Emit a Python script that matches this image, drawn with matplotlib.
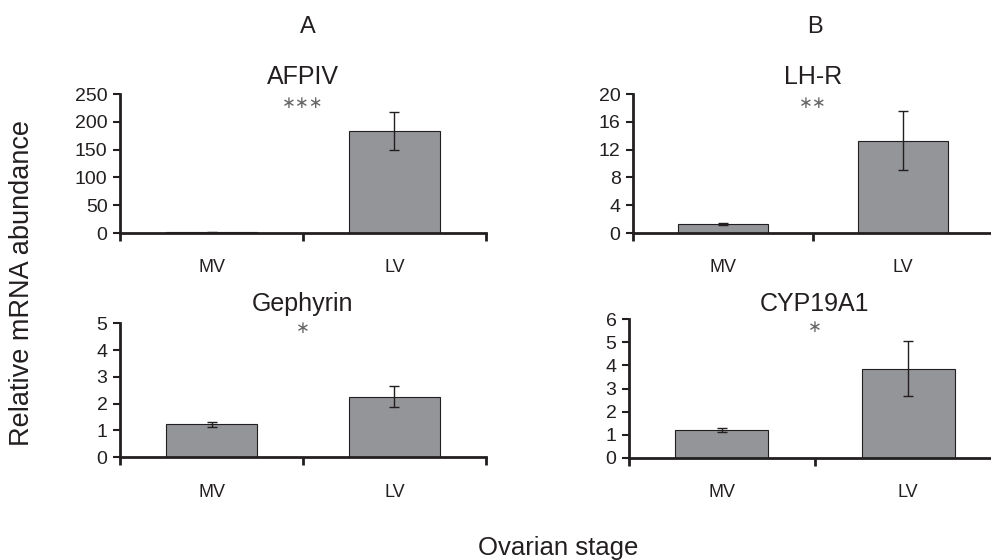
import matplotlib.pyplot as plt
import numpy as np

plt.rcParams["font.family"] = ["Liberation Sans", "DejaVu Sans"]

stages = ["MV", "LV"]
genes = ["AFPIV", "LH-R", "Gephyrin", "CYP19A1"]
mv_means = [1.0, 1.3, 1.23, 1.21]
lv_means = [183.5, 13.3, 2.26, 3.86]
mv_err = [0.3, 0.15, 0.1, 0.08]
lv_err = [35.0, 4.3, 0.39, 1.2]
y_max = [250, 20, 5, 6]
y_step = [50, 4, 1, 1]
stars = ["\u2217\u2217\u2217", "\u2217\u2217", "\u2217", "\u2217"]
panel_letters = ["A", "B"]

bar_color = "#939598"
ink = "#231f20"

fig = plt.figure(figsize=(9.91, 5.6), dpi=100)

# axes boxes in figure fractions (left, bottom, width, height)
boxes = [
    (0.1211, 0.5839, 0.3693, 0.2482),
    (0.6388, 0.5839, 0.3633, 0.2482),
    (0.1211, 0.1834, 0.3693, 0.2393),
    (0.6347, 0.1827, 0.3754, 0.2471),
]
title_pads = [7, 7, 8.5, 6]
star_y = [0.935, 0.935, 0.965, 0.944]

x = np.array([0.5, 1.5])
for i, gene in enumerate(genes):
    ax = fig.add_axes(boxes[i])
    ax.bar(
        x,
        [mv_means[i], lv_means[i]],
        width=0.5,
        color=bar_color,
        edgecolor=ink,
        linewidth=0.8,
        zorder=2,
    )
    ax.errorbar(
        x,
        [mv_means[i], lv_means[i]],
        yerr=[mv_err[i], lv_err[i]],
        fmt="none",
        ecolor=ink,
        elinewidth=1.0,
        capsize=3.5,
        capthick=1.0,
        zorder=3,
    )
    ax.set_xlim(0, 2)
    ax.set_ylim(0, y_max[i])
    ax.set_yticks(np.arange(0, y_max[i] + y_step[i] / 2, y_step[i]))
    ax.set_xticks([0, 1, 2])
    ax.set_xticklabels([])
    ax.set_xticks(x, minor=True)
    ax.set_xticklabels(stages, minor=True, fontsize=13, color=ink)
    ax.tick_params(axis="x", which="major", direction="out", length=6,
                   width=2, color=ink)
    ax.tick_params(axis="x", which="minor", length=0, pad=19)
    ax.tick_params(axis="y", direction="out", length=5, width=1.5,
                   color=ink, labelsize=14, labelcolor=ink, pad=4)
    for side in ["top", "right"]:
        ax.spines[side].set_visible(False)
    for side in ["left", "bottom"]:
        ax.spines[side].set_linewidth(2)
        ax.spines[side].set_color(ink)
    ax.spines["bottom"].set_zorder(4)
    ax.set_title(gene, fontsize=18, color=ink, pad=title_pads[i])
    ax.text(0.5, star_y[i], stars[i], transform=ax.transAxes, ha="center",
            va="center", fontsize=12, color="#666666",
            family=["DejaVu Sans"])

fig.text(308 / 991, 1 - 27 / 560, panel_letters[0], ha="center", va="center",
         fontsize=17, color=ink)
fig.text(815 / 991, 1 - 27 / 560, panel_letters[1], ha="center", va="center",
         fontsize=17, color=ink)
fig.text(22 / 991, 1 - 283 / 560, "Relative mRNA abundance", rotation=90,
         ha="center", va="center", fontsize=19.5, color=ink)
fig.text(558 / 991, 1 - 548 / 560, "Ovarian stage", ha="center", va="center",
         fontsize=18.5, color=ink)

fig.savefig("out.png", dpi=100)
